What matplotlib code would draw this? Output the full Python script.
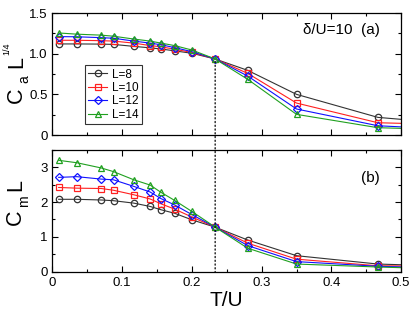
import matplotlib
matplotlib.use("Agg")
import matplotlib.pyplot as plt
from matplotlib.patches import ConnectionPatch
from matplotlib.ticker import MultipleLocator

plt.rcParams['font.family'] = ['Liberation Sans', 'DejaVu Sans']

T = [0.0088, 0.035, 0.07, 0.0875, 0.1167, 0.14, 0.1556, 0.175, 0.2, 0.2333, 0.28, 0.35, 0.4667, 0.7]
labels = ['L=8', 'L=10', 'L=12', 'L=14']

Ca_L8 = [1.12, 1.12, 1.118, 1.114, 1.09, 1.072, 1.058, 1.035, 1.005, 0.935, 0.795, 0.50, 0.217, 0.047]
Ca_L10 = [1.165, 1.165, 1.16, 1.155, 1.13, 1.10, 1.085, 1.055, 1.015, 0.935, 0.758, 0.393, 0.151, 0.10]
Ca_L12 = [1.21, 1.208, 1.197, 1.19, 1.155, 1.13, 1.11, 1.075, 1.025, 0.935, 0.725, 0.32, 0.114, 0.016]
Ca_L14 = [1.255, 1.24, 1.228, 1.215, 1.18, 1.155, 1.13, 1.10, 1.045, 0.935, 0.685, 0.254, 0.09, 0.034]

Cm_L8 = [2.08, 2.08, 2.06, 2.04, 1.97, 1.875, 1.78, 1.68, 1.49, 1.28, 0.91, 0.46, 0.22, 0.08]
Cm_L10 = [2.42, 2.40, 2.39, 2.34, 2.21, 2.09, 1.95, 1.80, 1.57, 1.28, 0.82, 0.36, 0.17, 0.14]
Cm_L12 = [2.71, 2.73, 2.66, 2.64, 2.45, 2.29, 2.10, 1.92, 1.64, 1.28, 0.75, 0.29, 0.155, 0.03]
Cm_L14 = [3.20, 3.13, 2.98, 2.875, 2.64, 2.49, 2.28, 2.05, 1.73, 1.28, 0.675, 0.22, 0.135, 0.0]

Tc = 0.2333
Ca_c = 0.935

colors = ['#333333', '#ff2020', '#1010ff', '#20a020']
markers = ['o', 's', 'D', '^']
msizes = [4.6, 4.4, 4.0, 4.6]

W, H = 415, 314
fig = plt.figure(figsize=(W / 100, H / 100), dpi=100)
ax1 = fig.add_axes([0.1265, 0.570, 0.840, 0.3885])
ax2 = fig.add_axes([0.1265, 0.1347, 0.840, 0.388])

for ax, series in ((ax1, [Ca_L8, Ca_L10, Ca_L12, Ca_L14]), (ax2, [Cm_L8, Cm_L10, Cm_L12, Cm_L14])):
    for y, c, m, ms, lab in zip(series, colors, markers, msizes, labels):
        ax.plot(T, y, color=c, marker=m, ms=ms, mfc='none', mec=c, mew=0.9,
                lw=0.8, label=lab)
    ax.set_xlim(0, 0.5)
    ax.xaxis.set_major_locator(MultipleLocator(0.1))
    ax.xaxis.set_minor_locator(MultipleLocator(0.05))
    ax.tick_params(which='both', direction='in', top=True, right=True, labelsize=9.5, width=0.8)
    ax.tick_params(which='major', length=4)
    ax.tick_params(which='minor', length=2.5)
    for s in ax.spines.values():
        s.set_linewidth(0.9)

ax1.set_ylim(0, 1.5)
ax1.set_yticks([0, 0.5, 1.0, 1.5])
ax1.set_yticklabels(['0', '0.5', '1.0', '1.5'])
ax1.yaxis.set_minor_locator(MultipleLocator(0.25))
ax1.tick_params(labelbottom=False)

ax2.set_ylim(0, 3.5)
ax2.yaxis.set_major_locator(MultipleLocator(1))
ax2.yaxis.set_minor_locator(MultipleLocator(0.5))
ax2.set_xticks([0, 0.1, 0.2, 0.3, 0.4, 0.5])
ax2.set_xticklabels(['0', '0.1', '0.2', '0.3', '0.4', '0.5'])
ax2.set_xlabel('T/U', fontsize=15, labelpad=2)


def vtext(s, xb, yc, size):
    # rotated label piece: xb = baseline x (px), yc = centre along reading direction (px from top)
    fig.text(xb / W, 1 - yc / H, s, rotation=90, rotation_mode='anchor',
             ha='center', va='baseline', fontsize=size)


# y label of panel (a): C_a L^{1/4}
vtext('C', 22, 95, 15.5)
vtext('a', 28.5, 79, 10)
vtext('L', 22, 62, 15.5)
vtext('1/4', 9, 49, 6.5)
# y label of panel (b): C_m L
vtext('C', 21, 217, 15.5)
vtext('m', 28, 201, 10)
vtext('L', 21, 185, 15.5)

ax1.text(0.94, 0.86, 'δ/U=10  (a)', transform=ax1.transAxes, ha='right', va='center', fontsize=11)
ax2.text(0.94, 0.77, '(b)', transform=ax2.transAxes, ha='right', va='center', fontsize=11)

leg = ax1.legend(loc='upper left', bbox_to_anchor=(0.093, 0.574), fontsize=8.5, frameon=True,
                 fancybox=False, edgecolor='black', handlelength=1.6, handletextpad=0.4,
                 labelspacing=0.12, borderpad=0.3, borderaxespad=0)
leg.get_frame().set_linewidth(0.8)

con = ConnectionPatch(xyA=(Tc, Ca_c - 0.03), coordsA=ax1.transData,
                      xyB=(Tc, 0), coordsB=ax2.transData,
                      linestyle=(0, (1, 2)), color='black', lw=0.9)
fig.add_artist(con)

fig.savefig('out.png', dpi=100)
